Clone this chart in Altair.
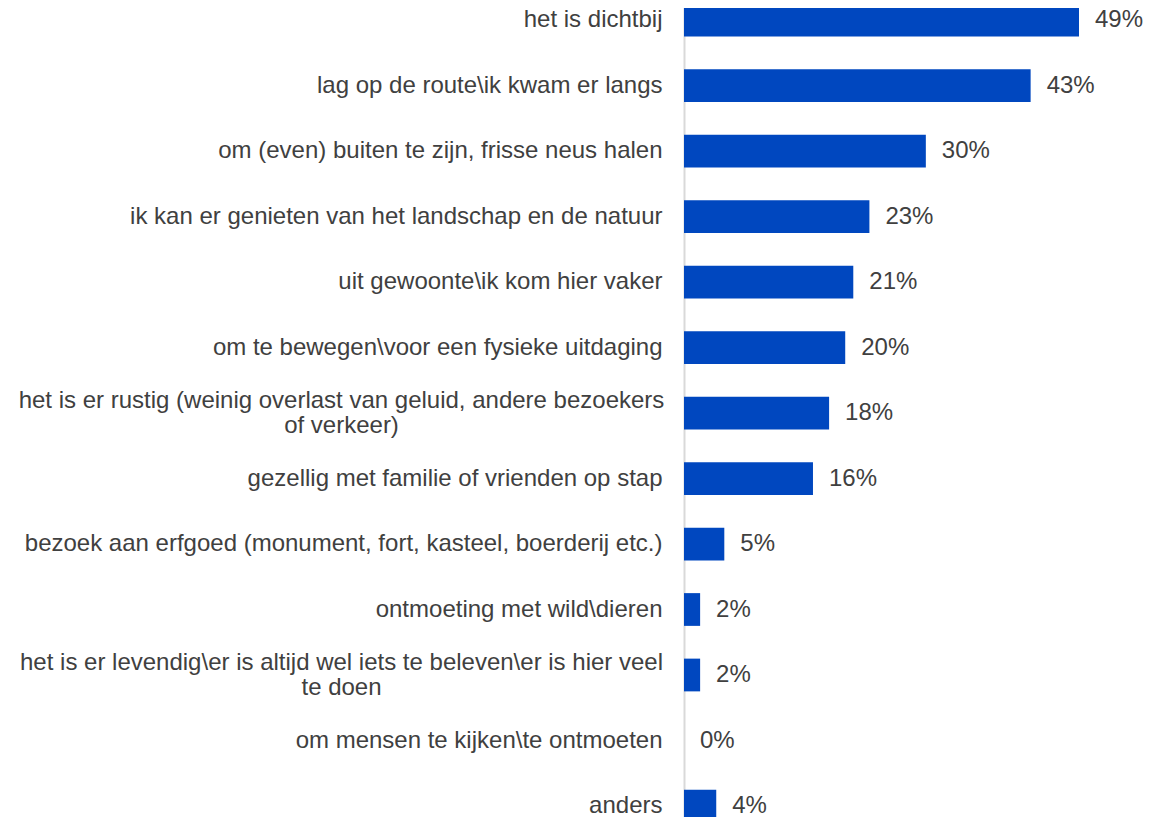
import altair as alt
import pandas as pd

categories = [
    "het is dichtbij",
    "lag op de route\\ik kwam er langs",
    "om (even) buiten te zijn, frisse neus halen",
    "ik kan er genieten van het landschap en de natuur",
    "uit gewoonte\\ik kom hier vaker",
    "om te bewegen\\voor een fysieke uitdaging",
    "het is er rustig (weinig overlast van geluid, andere bezoekers|of verkeer)",
    "gezellig met familie of vrienden op stap",
    "bezoek aan erfgoed (monument, fort, kasteel, boerderij etc.)",
    "ontmoeting met wild\\dieren",
    "het is er levendig\\er is altijd wel iets te beleven\\er is hier veel|te doen",
    "om mensen te kijken\\te ontmoeten",
    "anders",
]
values = [49, 43, 30, 23, 21, 20, 18, 16, 5, 2, 2, 0, 4]
labels = ["49%", "43%", "30%", "23%", "21%", "20%", "18%", "16%", "5%", "2%", "2%", "0%", "4%"]

df = pd.DataFrame({"cat": categories, "val": values, "lab": labels})

FONT = "Liberation Sans"
TXT = "#404040"
FS = 24
MULTI = "indexof(datum.value, '|') >= 0"

y_enc = alt.Y(
    "cat:N",
    sort=categories,
    title=None,
    scale=alt.Scale(range=[-20.75, 830.75], paddingInner=0.5, paddingOuter=0.25),
    axis=alt.Axis(
        ticks=False,
        grid=False,
        domainColor="#D9D9D9",
        domainWidth=2,
        labelFont=FONT,
        labelFontSize=FS,
        labelColor=TXT,
        labelLimit=0,
        labelLineHeight=25,
        labelExpr="split(datum.label, '|')",
        labelAlign={"condition": {"test": MULTI, "value": "center"}, "value": "right"},
        labelPadding={"condition": {"test": MULTI, "value": 343}, "value": 22},
        labelOffset={"condition": {"test": MULTI, "value": -12.5}, "value": 0},
    ),
)

x_enc = alt.X("val:Q", scale=alt.Scale(domain=[0, 49]), axis=None)

bars = alt.Chart(df).mark_bar(color="#0047BF").encode(x=x_enc, y=y_enc)

text = alt.Chart(df).mark_text(
    align="left", baseline="middle", dx=16, font=FONT, fontSize=FS, color=TXT
).encode(x=x_enc, y=alt.Y("cat:N", sort=categories), text="lab:N")

chart = (
    alt.layer(bars, text)
    .properties(
        width=395,
        height=809,
        autosize=alt.AutoSizeParams(type="none"),
        padding={"left": 676, "top": 0, "right": 87, "bottom": 0},
        background="white",
    )
    .configure_view(stroke=None)
)

chart.save("out.html", embed_options={"renderer": "svg", "actions": False})
